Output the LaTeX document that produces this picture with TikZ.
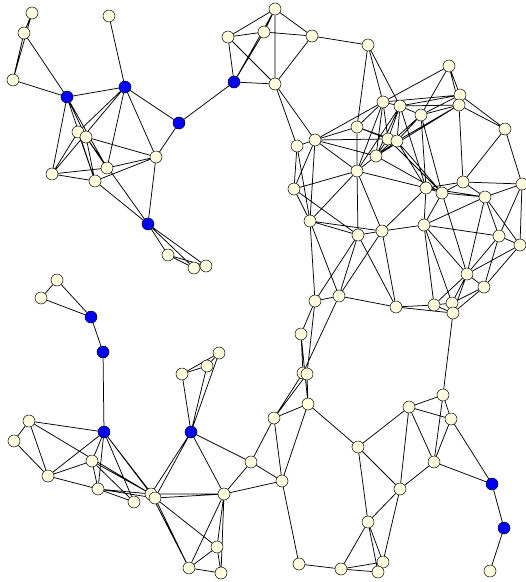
\documentclass[tikz,border=0pt]{standalone}
\usetikzlibrary{backgrounds}

\definecolor{cream}{RGB}{255,255,224}

\tikzset{
  vtx/.style={circle,draw,fill=cream,inner sep=0pt,minimum size=12pt,line width=0.5pt},
  hub/.style={vtx,fill=blue},
  link/.style={line width=0.75pt}
}

\begin{document}
\begin{tikzpicture}[x=1pt,y=-1pt]
\useasboundingbox (0,0) rectangle (526,582);

% upper left group
\node[vtx] (a1) at (32,13) {};
\node[vtx] (a2) at (24,33) {};
\node[vtx] (a3) at (13,80) {};
\node[vtx] (a4) at (109,16) {};
\node[hub] (b1) at (67,97) {};
\node[hub] (b2) at (125,87) {};
\node[hub] (b3) at (179,123) {};
\node[vtx] (a5) at (78,132) {};
\node[vtx] (a6) at (86,137) {};
\node[vtx] (a7) at (156,157) {};
\node[vtx] (a8) at (52,174) {};
\node[vtx] (a9) at (107,168) {};
\node[vtx] (a10) at (95,181) {};
\node[hub] (b4) at (148,224) {};
\node[vtx] (a11) at (168,255) {};
\node[vtx] (a12) at (194,268) {};
\node[vtx] (a13) at (206,266) {};

% top middle group
\node[hub] (b5) at (234,82) {};
\node[vtx] (c1) at (275,9) {};
\node[vtx] (c2) at (228,37) {};
\node[vtx] (c3) at (264,32) {};
\node[vtx] (c4) at (312,36) {};
\node[vtx] (c5) at (275,84) {};
\node[vtx] (c6) at (368,45) {};

% dense cluster, right
\node[vtx] (d2) at (449,66) {};
\node[vtx] (d3) at (460,95) {};
\node[vtx] (d4) at (459,105) {};
\node[vtx] (d7) at (505,129) {};
\node[vtx] (d8) at (383,102) {};
\node[vtx] (d9) at (400,106) {};
\node[vtx] (d10) at (421,115) {};
\node[vtx] (d11) at (357,127) {};
\node[vtx] (d12) at (315,140) {};
\node[vtx] (d13) at (297,146) {};
\node[vtx] (d14) at (388,139) {};
\node[vtx] (d15) at (397,141) {};
\node[vtx] (d16) at (376,156) {};
\node[vtx] (d17) at (357,171) {};
\node[vtx] (d18) at (294,189) {};
\node[vtx] (d19) at (310,221) {};
\node[vtx] (d20) at (358,235) {};
\node[vtx] (d21) at (382,231) {};
\node[vtx] (d22) at (426,188) {};
\node[vtx] (d23) at (442,193) {};
\node[vtx] (d24) at (463,182) {};
\node[vtx] (d25) at (485,197) {};
\node[vtx] (d26) at (522,184) {};
\node[vtx] (d27) at (424,225) {};
\node[vtx] (d28) at (499,236) {};
\node[vtx] (d29) at (520,245) {};
\node[vtx] (d30) at (467,274) {};
\node[vtx] (d31) at (484,287) {};
\node[vtx] (d32) at (315,301) {};
\node[vtx] (d33) at (339,296) {};
\node[vtx] (d34) at (396,307) {};
\node[vtx] (d35) at (434,305) {};
\node[vtx] (d36) at (452,303) {};
\node[vtx] (d37) at (453,313) {};

% lower left group
\node[vtx] (e1) at (57,280) {};
\node[vtx] (e2) at (41,298) {};
\node[hub] (f1) at (91,317) {};
\node[hub] (f2) at (103,352) {};
\node[hub] (f3) at (104,432) {};
\node[hub] (f4) at (191,432) {};
\node[vtx] (e3) at (219,353) {};
\node[vtx] (e4) at (207,366) {};
\node[vtx] (e5) at (182,374) {};
\node[vtx] (e6) at (29,421) {};
\node[vtx] (e7) at (14,441) {};
\node[vtx] (e8) at (92,461) {};
\node[vtx] (e9) at (48,476) {};
\node[vtx] (e10) at (98,489) {};
\node[vtx] (e11) at (134,502) {};
\node[vtx] (e12) at (151,494) {};
\node[vtx] (e13) at (155,498) {};
\node[vtx] (e14) at (224,494) {};
\node[vtx] (e15) at (251,462) {};
\node[vtx] (e16) at (217,547) {};
\node[vtx] (e17) at (189,568) {};
\node[vtx] (e18) at (221,573) {};

% lower right group
\node[vtx] (g2) at (301,334) {};
\node[vtx] (g3) at (303,373) {};
\node[vtx] (g3b) at (307,374) {};
\node[vtx] (g4) at (308,404) {};
\node[vtx] (g5) at (274,418) {};
\node[vtx] (g7) at (282,481) {};
\node[vtx] (g8) at (358,447) {};
\node[vtx] (g9) at (409,407) {};
\node[vtx] (g10) at (443,395) {};
\node[vtx] (g11) at (451,419) {};
\node[vtx] (g12) at (434,462) {};
\node[vtx] (g13) at (400,489) {};
\node[hub] (b6) at (492,484) {};
\node[hub] (b7) at (504,528) {};
\node[vtx] (g14) at (490,571) {};
\node[vtx] (g15) at (368,522) {};
\node[vtx] (g16) at (299,564) {};
\node[vtx] (g17) at (341,569) {};
\node[vtx] (g18) at (383,562) {};
\node[vtx] (g19) at (378,572) {};

\begin{pgfonlayer}{background}
% upper left links
\draw[link] (a1)--(a2) (a1)--(a3) (a2)--(a3) (a2)--(b1) (a3)--(b1)
  (b1)--(b2) (a4)--(b2) (b2)--(b3) (b3)--(a7) (b3)--(b5)
  (b1)--(a8) (b1)--(a6) (b1)--(a10) (b1)--(a9)
  (b2)--(a5) (b2)--(a8) (b2)--(a9) (b2)--(a7)
  (a5)--(a6) (a5)--(a8) (a5)--(a10) (a6)--(a7) (a6)--(a9) (a6)--(a10)
  (a8)--(a9) (a8)--(a10) (a9)--(a7) (a10)--(a7)
  (a10)--(b4) (a6)--(b4) (a7)--(b4)
  (b4)--(a11) (b4)--(a12) (b4)--(a13) (a11)--(a12) (a11)--(a13);

% top middle links
\draw[link] (c1)--(c2) (c1)--(c3) (c1)--(c4) (c1)--(c5) (c1)--(b5)
  (c2)--(c3) (c2)--(b5) (c2)--(c5) (c3)--(c4) (c3)--(b5)
  (b5)--(c5) (c4)--(c5) (c4)--(c6)
  (c5)--(d13) (c5)--(d12);

% dense cluster links
\draw[link] (c6)--(d11) (c6)--(d8) (c6)--(d9)
  (d2)--(d8) (d2)--(d10) (d2)--(d3) (d2)--(d4)
  (d3)--(d7) (d3)--(d9) (d3)--(d8) (d3)--(d4) (d3)--(d10)
  (d4)--(d7) (d4)--(d24) (d4)--(d10) (d4)--(d15) (d4)--(d16) (d4)--(d9)
  (d8)--(d9) (d8)--(d11) (d8)--(d17) (d8)--(d16) (d8)--(d14) (d8)--(d12)
  (d9)--(d10) (d9)--(d14) (d9)--(d15) (d9)--(d17) (d9)--(d16) (d9)--(d22)
  (d10)--(d22) (d10)--(d23) (d10)--(d16) (d10)--(d15)
  (d11)--(d12) (d11)--(d14) (d11)--(d17) (d11)--(d15)
  (d12)--(d13) (d12)--(d17) (d12)--(d18) (d12)--(d19) (d12)--(d16) (d12)--(d14)
  (d13)--(d18) (d13)--(d19)
  (d14)--(d15) (d14)--(d16) (d14)--(d23)
  (d15)--(d16) (d15)--(d22) (d15)--(d23) (d16)--(d17) (d16)--(d23)
  (d17)--(d18) (d17)--(d20) (d17)--(d21) (d17)--(d22) (d17)--(d19)
  (d18)--(d19) (d18)--(d20)
  (d19)--(d20) (d19)--(d32) (d19)--(d33) (d19)--(d21)
  (d20)--(d21) (d20)--(d32) (d20)--(d33) (d20)--(d34)
  (d21)--(d27) (d21)--(d22) (d21)--(d33) (d21)--(d34)
  (d22)--(d23) (d22)--(d27) (d22)--(d24) (d22)--(d25)
  (d23)--(d24) (d23)--(d25) (d23)--(d27) (d23)--(d30)
  (d24)--(d25) (d24)--(d26) (d24)--(d7)
  (d25)--(d26) (d25)--(d27) (d25)--(d28) (d25)--(d29) (d25)--(d30)
  (d26)--(d29) (d26)--(d7) (d26)--(d28)
  (d27)--(d28) (d27)--(d30) (d27)--(d35) (d27)--(d36)
  (d28)--(d29) (d28)--(d30) (d28)--(d31)
  (d29)--(d31) (d29)--(d30)
  (d30)--(d31) (d30)--(d35) (d30)--(d36) (d30)--(d37)
  (d31)--(d36) (d31)--(d37)
  (d32)--(d33) (d33)--(d34) (d34)--(d35) (d34)--(d37)
  (d35)--(d36) (d35)--(d37) (d36)--(d37);

% lower left links
\draw[link] (e1)--(e2) (e1)--(f1) (e2)--(f1) (f1)--(f2) (f2)--(f3)
  (f3)--(e6) (f3)--(e9) (f3)--(e8) (f3)--(e10) (f3)--(e11) (f3)--(e12) (f3)--(e13)
  (e6)--(e7) (e6)--(e9) (e6)--(e12) (e7)--(e9)
  (e9)--(e8) (e9)--(e10) (e8)--(e10) (e8)--(e12) (e8)--(e11)
  (e10)--(e12) (e10)--(e11) (e10)--(e13) (e12)--(e13)
  (e12)--(f4) (e13)--(f4) (e13)--(e14) (e12)--(e14)
  (e13)--(e17) (e12)--(e17) (e13)--(e16)
  (f4)--(e5) (f4)--(e4) (f4)--(e3) (f4)--(e15) (f4)--(e14)
  (e3)--(e4) (e3)--(e5) (e4)--(e5)
  (e14)--(e15) (e14)--(e16) (e14)--(e17) (e14)--(e18)
  (e16)--(e17) (e16)--(e18) (e17)--(e18);

% lower right links
\draw[link] (d32)--(g2) (d32)--(g3b) (d33)--(g3) (g2)--(g3) (g2)--(g4)
  (g3)--(g5) (g3b)--(g5) (g3b)--(g4) (g4)--(g5)
  (g5)--(e15) (g5)--(g7) (g4)--(g7) (g4)--(g8) (e15)--(g7) (e14)--(g7)
  (g7)--(g16) (g8)--(g9) (g8)--(g13) (g8)--(g15)
  (g9)--(g10) (g9)--(g11) (g9)--(g13) (g9)--(g12)
  (g10)--(g11) (g10)--(g12) (g10)--(d37)
  (g11)--(g12) (g11)--(b6) (g12)--(g13) (g12)--(b6)
  (g13)--(g15) (g13)--(g18)
  (g15)--(g17) (g15)--(g18) (g15)--(g19)
  (g16)--(g17) (g17)--(g18) (g17)--(g19)
  (b6)--(b7) (b7)--(g14);
\end{pgfonlayer}

\end{tikzpicture}
\end{document}
